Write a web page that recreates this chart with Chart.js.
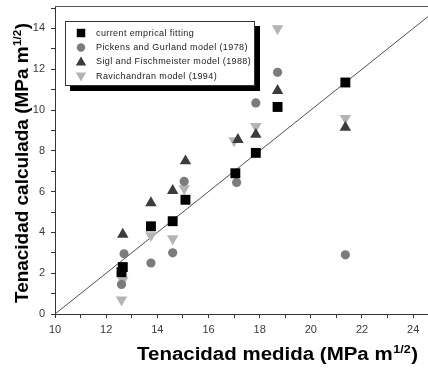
<!DOCTYPE html>
<html>
<head>
<meta charset="utf-8">
<script src="https://cdn.jsdelivr.net/npm/chart.js@4/dist/chart.umd.min.js"></script>
<style>
    html, body { margin: 0; padding: 0; background: #fff; }
    #grafico { display: block; }
</style>
</head>
<body>
<canvas id="grafico" width="428" height="370"></canvas>
<script>
// Datos
const seriesNames = [
    'current emprical fitting',
    'Pickens and Gurland model (1978)',
    'Sigl and Fischmeister model (1988)',
    'Ravichandran model (1994)'
];

const empiricoX = [12.65, 12.6, 13.75, 14.6, 15.1, 17.05, 17.85, 18.7, 21.35];
const empiricoY = [2.3, 2.05, 4.3, 4.55, 5.6, 6.9, 7.9, 10.15, 11.35];

const pickensX = [12.6, 12.7, 13.75, 14.6, 15.05, 17.1, 17.85, 18.7, 21.35];
const pickensY = [1.45, 2.95, 2.5, 3.0, 6.5, 6.45, 10.35, 11.85, 2.9];

const siglX = [12.65, 13.75, 14.6, 15.1, 17.15, 17.85, 18.7, 21.35];
const siglY = [3.9, 5.45, 6.05, 7.5, 8.55, 8.8, 10.95, 9.15];

const ravichandranX = [12.6, 12.65, 13.75, 14.6, 15.05, 17.0, 17.85, 18.7, 21.35];
const ravichandranY = [0.7, 1.65, 3.85, 3.7, 6.15, 8.5, 9.2, 14.0, 9.6];

// Recta y = x - 10
const rectaX = [10, 25];
const rectaY = [0, 15];

const xTickLabels = [10, 12, 14, 16, 18, 20, 22, 24];
const yTickLabels = [0, 2, 4, 6, 8, 10, 12, 14];

const FONT = '"Liberation Sans", Arial, sans-serif';

function toPoints(xs, ys) {
    return xs.map((x, i) => ({ x: x, y: ys[i] }));
}

const estilos = [
    { pointStyle: 'rect', radius: 7, rotation: 0, color: '#000000' },
    { pointStyle: 'circle', radius: 4.6, rotation: 0, color: '#7c7c7c' },
    { pointStyle: 'triangle', radius: 6.6, rotation: 0, color: '#3c3c3c' },
    { pointStyle: 'triangle', radius: 6.6, rotation: 180, color: '#b4b4b4' }
];

const puntos = [
    toPoints(empiricoX, empiricoY),
    toPoints(pickensX, pickensY),
    toPoints(siglX, siglY),
    toPoints(ravichandranX, ravichandranY)
];

const datasets = puntos.map((data, i) => ({
    type: 'scatter',
    label: seriesNames[i],
    data: data,
    pointStyle: estilos[i].pointStyle,
    pointRadius: estilos[i].radius,
    pointRotation: estilos[i].rotation,
    backgroundColor: estilos[i].color,
    borderColor: estilos[i].color,
    borderWidth: 0,
    order: i
}));

datasets.push({
    type: 'line',
    label: 'recta',
    data: toPoints(rectaX, rectaY),
    borderColor: '#505050',
    borderWidth: 1,
    pointRadius: 0,
    fill: false,
    order: 10
});

// Texto con superíndice "1/2", ajustado a un ancho dado
function drawTitle(ctx, base, width) {
    ctx.font = 'bold 18px ' + FONT;
    const w1 = ctx.measureText(base).width;
    ctx.font = 'bold 11px ' + FONT;
    const w2 = ctx.measureText('1/2').width;
    ctx.font = 'bold 18px ' + FONT;
    const w3 = ctx.measureText(')').width;
    const total = w1 + w2 + w3 + 1;
    const k = width / total;
    ctx.scale(k, 1);
    ctx.fillStyle = '#000';
    ctx.textBaseline = 'alphabetic';
    ctx.textAlign = 'left';
    ctx.fillText(base, 0, 0);
    ctx.font = 'bold 11px ' + FONT;
    ctx.fillText('1/2', w1 + 0.5, -7);
    ctx.font = 'bold 18px ' + FONT;
    ctx.fillText(')', w1 + w2 + 1, 0);
}

const decoracion = {
    id: 'decoracion',
    afterDatasetsDraw(chart) {
        const ctx = chart.ctx;
        const area = chart.chartArea;

        // Borde superior del marco
        ctx.save();
        ctx.strokeStyle = '#555';
        ctx.lineWidth = 1;
        ctx.beginPath();
        ctx.moveTo(area.left, area.top + 0.5);
        ctx.lineTo(chart.width, area.top + 0.5);
        ctx.stroke();
        ctx.restore();

        // Leyenda con sombra
        const lx = 65, ly = 21, lw = 190, lh = 65;
        ctx.save();
        ctx.fillStyle = '#000';
        ctx.fillRect(lx + 5, ly + 5, lw, lh);
        ctx.fillStyle = '#fff';
        ctx.fillRect(lx, ly, lw, lh);
        ctx.strokeStyle = '#333';
        ctx.lineWidth = 1;
        ctx.strokeRect(lx + 0.5, ly + 0.5, lw - 1, lh - 1);
        const filas = [33, 47.5, 61.5, 76.5];
        filas.forEach((fy, i) => {
            const e = estilos[i];
            ctx.fillStyle = e.color;
            ctx.strokeStyle = e.color;
            Chart.helpers.drawPoint(ctx, {
                pointStyle: e.pointStyle,
                radius: e.pointStyle === 'rect' ? 6 : (e.pointStyle === 'circle' ? 4.2 : 6),
                rotation: e.rotation,
                borderWidth: 0
            }, 81, fy + (e.pointStyle === 'triangle' ? (e.rotation ? -1 : 1) : 0));
            ctx.fillStyle = '#222';
            ctx.font = '9px ' + FONT;
            ctx.textBaseline = 'middle';
            ctx.textAlign = 'left';
            ctx.letterSpacing = '0.4px';
            ctx.fillText(seriesNames[i], 96, fy + 0.5);
            ctx.letterSpacing = '0px';
        });
        ctx.restore();

        // Título del eje x
        ctx.save();
        ctx.translate(137, 359.5);
        drawTitle(ctx, 'Tenacidad medida (MPa m', 281);
        ctx.restore();

        // Título del eje y
        ctx.save();
        ctx.translate(27.5, 303);
        ctx.rotate(-Math.PI / 2);
        drawTitle(ctx, 'Tenacidad calculada (MPa m', 280);
        ctx.restore();
    }
};

const chart = new Chart(document.getElementById('grafico').getContext('2d'), {
    data: { datasets: datasets },
    options: {
        responsive: false,
        animation: false,
        devicePixelRatio: 1,
        layout: { autoPadding: false, padding: { top: 6, right: 0, left: 0, bottom: 0 } },
        plugins: {
            legend: { display: false },
            tooltip: { enabled: false }
        },
        scales: {
            x: {
                type: 'linear',
                min: 10,
                max: 24.58,
                afterFit: scale => {
                    scale.height = 56;
                    scale.paddingLeft = 0;
                    scale.paddingRight = 0;
                },
                border: { display: true, color: '#333', width: 1 },
                grid: { drawOnChartArea: false, tickLength: 4, tickColor: '#333' },
                ticks: {
                    stepSize: 1,
                    includeBounds: false,
                    autoSkip: false,
                    maxRotation: 0,
                    padding: 5,
                    color: '#3a3a3a',
                    font: { family: FONT, size: 11 },
                    callback: v => xTickLabels.includes(v) ? String(v) : ''
                }
            },
            y: {
                type: 'linear',
                min: 0,
                max: 15.1,
                afterFit: scale => {
                    scale.width = 55;
                    scale.paddingTop = 0;
                    scale.paddingBottom = 0;
                },
                border: { display: true, color: '#333', width: 1 },
                grid: { drawOnChartArea: false, tickLength: 4, tickColor: '#333' },
                ticks: {
                    stepSize: 1,
                    includeBounds: false,
                    autoSkip: false,
                    padding: 6,
                    color: '#3a3a3a',
                    font: { family: FONT, size: 11 },
                    callback: v => yTickLabels.includes(v) ? String(v) : ''
                }
            }
        }
    },
    plugins: [decoracion]
});
</script>
</body>
</html>
